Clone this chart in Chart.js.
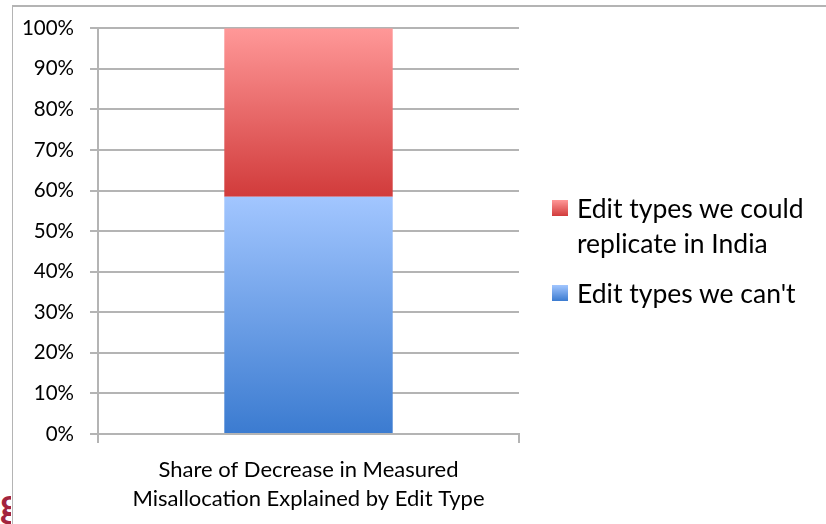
<!DOCTYPE html>
<html>
<head>
<meta charset="utf-8">
<script src="https://cdn.jsdelivr.net/npm/chart.js@4.4.1/dist/chart.umd.min.js"></script>
<style>
  html, body { margin: 0; padding: 0; background: #fff; }
  #wrap { position: relative; width: 826px; height: 524px; overflow: hidden; font-family: Lato, "Liberation Sans", sans-serif; }
  #frame { position: absolute; left: 12px; top: 5px; width: 830px; height: 540px; border-left: 1px solid #b4b4b4; border-top: 2px solid #b4b4b4; }
  #slideMark { position: absolute; left: 0; top: 478px; width: 11px; height: 46px; overflow: hidden; }
  #slideMark span { position: absolute; right: -10px; top: 0; font: bold 40px Lato, sans-serif; color: #a3243f; }
  canvas { position: absolute; left: 0; top: 0; }
  #legend { position: absolute; left: 552px; top: 191px; color: #000; font-size: 26.5px; line-height: 35px; }
  .item { position: relative; padding-left: 25px; margin-bottom: 15px; }
  .swatch { position: absolute; left: 0; top: 9px; width: 16px; height: 16px; }
</style>
</head>
<body>
<div id="wrap">
  <div id="frame"></div>
  <div id="slideMark"><span>g</span></div>
  <canvas id="chart" width="826" height="524"></canvas>
  <div id="legend"></div>
</div>
<script>
// category label (shown under the bar) and the two stacked shares, in percent
const categories = [["Share of Decrease in Measured", "Misallocation Explained by Edit Type"]];
const cantShare = [58.5];
const couldShare = [41.5];
const seriesNames = ["Edit types we can't", ["Edit types we could", "replicate in India"]];

const blueTop = "#a2c6ff", blueBottom = "#3b7bd0";
const redTop = "#ff9898", redBottom = "#d13b3b";

// vertical gradient spanning one stacked segment
function segmentFill(context, fromVal, toVal, topColor, bottomColor) {
  const chart = context.chart;
  if (!chart.chartArea) return bottomColor;
  const y = chart.scales.y;
  const g = chart.ctx.createLinearGradient(0, y.getPixelForValue(toVal), 0, y.getPixelForValue(fromVal));
  g.addColorStop(0, topColor);
  g.addColorStop(1, bottomColor);
  return g;
}

const ctx = document.getElementById("chart").getContext("2d");
new Chart(ctx, {
  type: "bar",
  data: {
    labels: categories,
    datasets: [
      {
        label: "Edit types we can't",
        data: cantShare,
        backgroundColor: c => segmentFill(c, 0, cantShare[0], blueTop, blueBottom),
        barPercentage: 0.4,
        categoryPercentage: 1
      },
      {
        label: "Edit types we could replicate in India",
        data: couldShare,
        backgroundColor: c => segmentFill(c, cantShare[0], 100, redTop, redBottom),
        barPercentage: 0.4,
        categoryPercentage: 1
      }
    ]
  },
  options: {
    responsive: false,
    animation: false,
    layout: { padding: { left: 12, right: 307, top: 27, bottom: 0 } },
    plugins: { legend: { display: false }, tooltip: { enabled: false } },
    scales: {
      x: {
        stacked: true,
        grid: { offset: true, drawOnChartArea: false, tickLength: 9, color: "#b4b4b4", lineWidth: 2 },
        border: { color: "#b4b4b4", width: 2 },
        ticks: { color: "#000", font: { family: "Lato", size: 22, lineHeight: 1.3 }, padding: 13, maxRotation: 0 },
        afterFit: s => { s.height = 90; }
      },
      y: {
        stacked: true,
        min: 0,
        max: 100,
        grid: { tickLength: 8, color: "#b4b4b4", lineWidth: 2 },
        border: { color: "#b4b4b4", width: 2 },
        ticks: { stepSize: 10, color: "#000", font: { family: "Lato", size: 20.5 }, padding: 16, callback: v => v + "%" },
        afterFit: s => { s.width = 86; }
      }
    }
  }
});

// legend on the right, top entry first
const legend = document.getElementById("legend");
[[seriesNames[1], redTop, redBottom], [seriesNames[0], blueTop, blueBottom]].forEach(([name, top, bottom]) => {
  const item = document.createElement("div");
  item.className = "item";
  const sw = document.createElement("div");
  sw.className = "swatch";
  sw.style.background = `linear-gradient(${top}, ${bottom})`;
  item.appendChild(sw);
  const text = document.createElement("div");
  text.innerHTML = [].concat(name).join("<br>");
  item.appendChild(text);
  legend.appendChild(item);
});
</script>
</body>
</html>
